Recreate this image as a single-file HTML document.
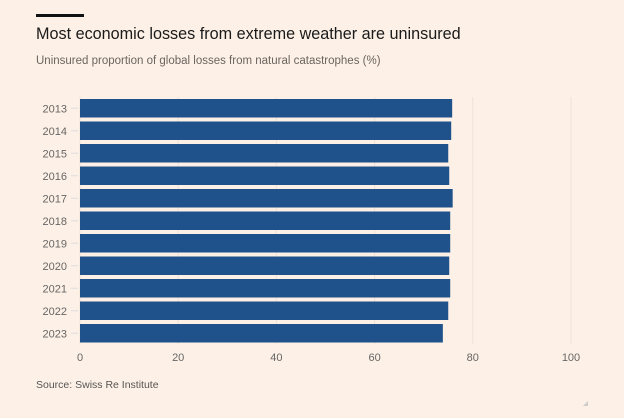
<!DOCTYPE html>
<html><head><meta charset="utf-8"><style>
body{margin:0;background:#fdf0e6;font-family:"Liberation Sans",sans-serif;}
#wrap{position:relative;width:624px;height:418px;overflow:hidden;background:#fdf0e6;}
</style></head><body>
<div id="wrap">
<svg id="chart" width="624" height="418">
<rect x="36" y="14" width="48" height="3" fill="#111"/>
<text x="36" y="39" font-size="16.2" fill="#1a1a1a">Most economic losses from extreme weather are uninsured</text>
<text x="36" y="64" font-size="11.5" fill="#6b6560">Uninsured proportion of global losses from natural catastrophes (%)</text>
<text x="36" y="388" font-size="10.5" fill="#555">Source: Swiss Re Institute</text>
<path d="M583 406 L588 401 L588 406 Z" fill="#ccc"/>
</svg>
</div>
<script>
const categories=["2013","2014","2015","2016","2017","2018","2019","2020","2021","2022","2023"];
const values=[75.8,75.6,75.0,75.2,75.9,75.4,75.4,75.2,75.4,75.0,73.9];
const ticks=[0,20,40,60,80,100];
const svg=document.getElementById('chart');
const NS='http://www.w3.org/2000/svg';
const x0=80,x1=571,plotTop=97,step=22.5,bh=18.5;
const xs=v=>x0+(x1-x0)*v/100;
function el(t,a){const e=document.createElementNS(NS,t);for(const k in a)e.setAttribute(k,a[k]);svg.appendChild(e);return e;}
ticks.forEach(t=>{
  const g=el('line',{x1:xs(t),x2:xs(t),y1:plotTop,y2:plotTop+step*categories.length,stroke:'#efe2d6','stroke-width':1});
  
  
  const l=el('text',{x:xs(t),y:361,'font-size':11,fill:'#666','text-anchor':'middle'});
  l.textContent=t;
  
  
});
categories.forEach((c,i)=>{
  const y=plotTop+i*step+2;
  const b=el('rect',{x:x0,y:y,width:xs(values[i])-x0,height:bh,fill:'#1f528a'});
  
  
  const l=el('text',{x:67,y:y+bh/2+4,'font-size':11,fill:'#666','text-anchor':'end'});
  l.textContent=c;
  
  
  const tk=el('line',{x1:71,x2:78,y1:y+bh/2,y2:y+bh/2,stroke:'#ddd'});
  
  
});
</script>
</body></html>
